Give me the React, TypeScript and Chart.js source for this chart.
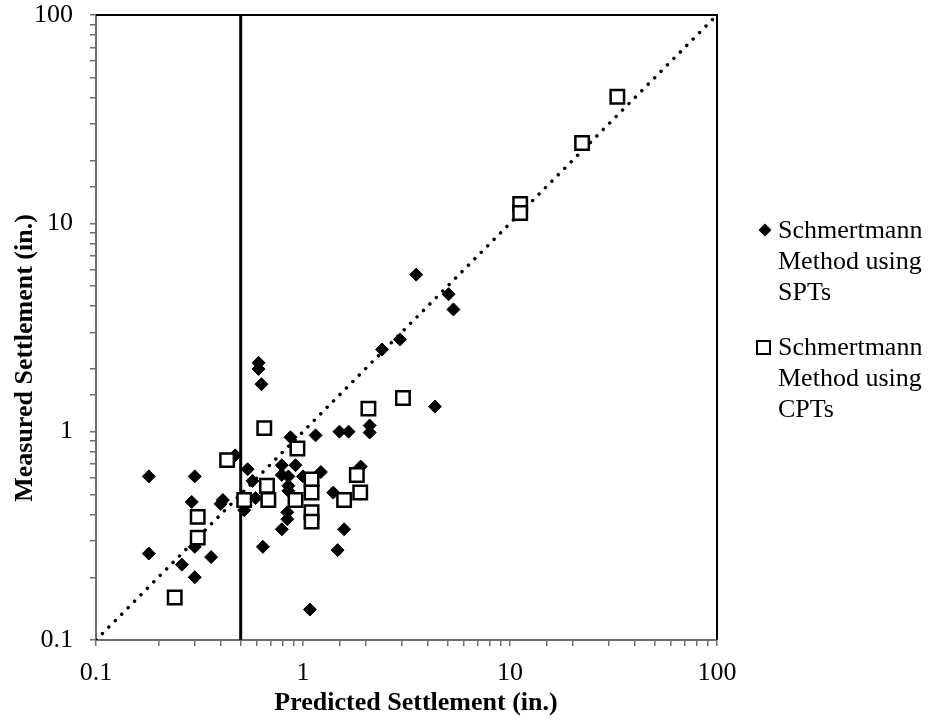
import React, { useEffect, useRef } from "react";
import { Chart, registerables } from "chart.js";

Chart.register(...registerables);

// ---- Data ----
const sptPredicted = [0.18, 0.18, 0.26, 0.29, 0.30, 0.30, 0.30, 0.36, 0.40, 0.41, 0.47, 0.52, 0.54, 0.57, 0.59, 0.61, 0.61, 0.63, 0.64, 0.79, 0.79, 0.79, 0.84, 0.84, 0.85, 0.85, 0.85, 0.87, 0.92, 1.0, 1.08, 1.15, 1.22, 1.4, 1.47, 1.5, 1.58, 1.66, 1.9, 2.1, 2.1, 2.41, 2.94, 3.52, 4.34, 5.05, 5.33];
const sptMeasured = [0.61, 0.26, 0.23, 0.46, 0.61, 0.28, 0.20, 0.25, 0.45, 0.47, 0.77, 0.42, 0.66, 0.58, 0.48, 2.14, 2.0, 1.69, 0.28, 0.69, 0.62, 0.34, 0.41, 0.38, 0.61, 0.55, 0.52, 0.94, 0.69, 0.61, 0.14, 0.96, 0.64, 0.51, 0.27, 1.0, 0.34, 1.0, 0.68, 1.07, 0.99, 2.48, 2.77, 5.67, 1.32, 4.57, 3.86];

const cptPredicted = [0.24, 0.31, 0.31, 0.43, 0.52, 0.65, 0.67, 0.68, 0.92, 0.94, 1.1, 1.1, 1.1, 1.1, 1.58, 1.82, 1.89, 2.07, 3.04, 11.2, 11.2, 22.3, 33];
const cptMeasured = [0.16, 0.31, 0.39, 0.73, 0.47, 1.04, 0.55, 0.47, 0.47, 0.83, 0.59, 0.51, 0.41, 0.37, 0.47, 0.62, 0.51, 1.29, 1.45, 12.4, 11.2, 24.3, 40.5];

const axisMin = 0.1;
const axisMax = 100;
const decadeLabels = ["0.1", "1", "10", "100"];
const oneToOne = [0.1, 100];
const thresholdX = 0.5;

const xTitle = "Predicted Settlement (in.)";
const yTitle = "Measured Settlement (in.)";
const sptLegend = ["Schmertmann", "Method using", "SPTs"];
const cptLegend = ["Schmertmann", "Method using", "CPTs"];

const FONT = "'Liberation Serif', 'Times New Roman', serif";
const AXIS_GRAY = "#6e6e6e";

function decadeLabel(v: number): string {
  const l = Math.log10(v);
  const r = Math.round(l);
  if (Math.abs(l - r) < 1e-6) {
    const idx = r + 1;
    return decadeLabels[idx] ?? "";
  }
  return "";
}

const overlayPlugin = {
  id: "overlay",
  afterDraw(chart: any) {
    const { ctx, chartArea } = chart;
    const { left, right, top, bottom } = chartArea;
    ctx.save();
    // top & right black borders
    ctx.strokeStyle = "#000";
    ctx.lineWidth = 2;
    ctx.beginPath();
    ctx.moveTo(left, top);
    ctx.lineTo(right, top);
    ctx.lineTo(right, bottom);
    ctx.stroke();

    // axis titles
    ctx.fillStyle = "#000";
    ctx.font = `bold 26px ${FONT}`;
    ctx.textAlign = "center";
    ctx.textBaseline = "alphabetic";
    ctx.fillText(xTitle, 416, 710);
    ctx.save();
    ctx.translate(32, 358);
    ctx.rotate(-Math.PI / 2);
    ctx.fillText(yTitle, 0, 0);
    ctx.restore();

    // legend
    ctx.font = `26px ${FONT}`;
    ctx.textAlign = "left";
    const tx = 778;
    sptLegend.forEach((t, i) => ctx.fillText(t, tx, 238 + i * 31));
    cptLegend.forEach((t, i) => ctx.fillText(t, tx, 355 + i * 31));
    // diamond marker
    ctx.fillStyle = "#000";
    ctx.beginPath();
    ctx.moveTo(765, 230 - 6.5);
    ctx.lineTo(765 + 6.5, 230);
    ctx.lineTo(765, 230 + 6.5);
    ctx.lineTo(765 - 6.5, 230);
    ctx.closePath();
    ctx.fill();
    // square marker
    ctx.fillStyle = "#fff";
    ctx.strokeStyle = "#000";
    ctx.lineWidth = 2;
    ctx.fillRect(757, 341, 13, 13);
    ctx.strokeRect(757, 341, 13, 13);
    ctx.restore();
  },
};

export default function App() {
  const ref = useRef<HTMLCanvasElement | null>(null);

  useEffect(() => {
    if (!ref.current) return;
    const spt = sptPredicted.map((x, i) => ({ x, y: sptMeasured[i] }));
    const cpt = cptPredicted.map((x, i) => ({ x, y: cptMeasured[i] }));
    const diag = oneToOne.map((v) => ({ x: v, y: v }));
    const vline = [
      { x: thresholdX, y: axisMin },
      { x: thresholdX, y: axisMax },
    ];

    const scaleCommon = (isX: boolean) => ({
      type: "logarithmic" as const,
      min: axisMin,
      max: axisMax,
      position: isX ? ("bottom" as const) : ("left" as const),
      grid: {
        drawOnChartArea: false,
        drawTicks: true,
        tickLength: 6,
        color: AXIS_GRAY,
        lineWidth: 1.5,
      },
      border: { display: true, color: AXIS_GRAY, width: 2 },
      ticks: {
        autoSkip: false,
        maxRotation: 0,
        minRotation: 0,
        padding: isX ? 12 : 17,
        color: "#000",
        font: { family: FONT, size: 26 },
        callback: (v: any) => decadeLabel(Number(v)),
      },
      afterFit: (s: any) => {
        if (isX) {
          s.height = 85;
          s.paddingLeft = 0;
          s.paddingRight = 0;
        } else {
          s.width = 96;
          s.paddingTop = 15;
          s.paddingBottom = 0;
        }
      },
    });

    const chart = new Chart(ref.current, {
      type: "scatter",
      data: {
        datasets: [
          {
            label: "Schmertmann Method using CPTs",
            data: cpt,
            pointStyle: "rect",
            pointRadius: 9.5,
            pointBackgroundColor: "#fff",
            pointBorderColor: "#000",
            pointBorderWidth: 2.5,
            order: 0,
          },
          {
            label: "Schmertmann Method using SPTs",
            data: spt,
            pointStyle: "rectRot",
            pointRadius: 6.5,
            pointBackgroundColor: "#000",
            pointBorderColor: "#000",
            pointBorderWidth: 1,
            order: 1,
          },
          {
            label: "1:1",
            data: diag,
            showLine: true,
            borderColor: "#000",
            borderWidth: 3.5,
            borderDash: [0.01, 9.1],
            borderCapStyle: "round",
            pointRadius: 0,
            order: 2,
          },
          {
            label: "0.5 in.",
            data: vline,
            showLine: true,
            borderColor: "#000",
            borderWidth: 3,
            pointRadius: 0,
            order: 2,
          },
        ],
      } as any,
      options: {
        animation: false,
        responsive: false,
        devicePixelRatio: 1,
        layout: { padding: { top: 0, right: 215, left: 0, bottom: 0 } },
        plugins: {
          legend: { display: false },
          tooltip: { enabled: false },
        },
        scales: {
          x: scaleCommon(true) as any,
          y: scaleCommon(false) as any,
        },
      },
      plugins: [overlayPlugin],
    });
    return () => chart.destroy();
  }, []);

  return (
    <div style={{ position: "absolute", left: 0, top: 0, width: 932, height: 725, background: "#fff" }}>
      <canvas ref={ref} width={932} height={725} style={{ width: 932, height: 725, display: "block" }} />
    </div>
  );
}
